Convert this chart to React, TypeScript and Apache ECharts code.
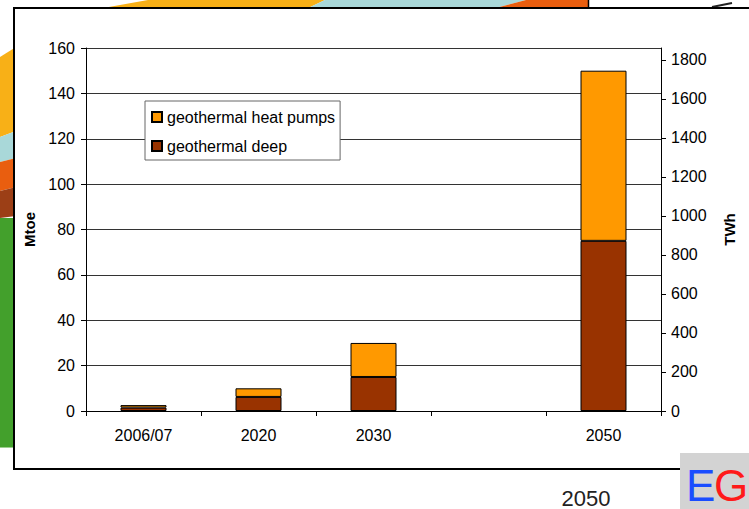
import React, { useEffect, useRef } from "react";
import * as echarts from "echarts";

const categories = ["2006/07", "2020", "2030", "", "2050"];
const deepValues = [1.5, 6.2, 15, null, 75];
const heatPumpValues = [1.1, 3.8, 15, null, 75];
const leftMax = 160;
const twhPerMtoe = 11.63;
const rightTicks = [0, 200, 400, 600, 800, 1000, 1200, 1400, 1600, 1800];

const FONT = "Liberation Sans, Arial, sans-serif";

export default function App() {
  const ref = useRef<HTMLDivElement>(null);
  useEffect(() => {
    document.body.style.margin = "0";
    const chart = echarts.init(ref.current!, null, { renderer: "svg" });
    const bg = -10;
    chart.setOption({
      animation: false,
      backgroundColor: "#ffffff",
      textStyle: { fontFamily: FONT },
      graphic: [
        // top decorative stripes
        { type: "polygon", z: bg, shape: { points: [[148, 0], [325, 0], [304, 10], [92, 10]] }, style: { fill: "#F8B017" } },
        { type: "polygon", z: bg, shape: { points: [[325, 0], [526, 0], [488, 10], [304, 10]] }, style: { fill: "#A9D8D9" } },
        { type: "polygon", z: bg, shape: { points: [[526, 0], [588, 0], [588, 10], [488, 10]] }, style: { fill: "#E95E0F" } },
        { type: "line", z: bg, shape: { x1: 588.5, y1: 0, x2: 588.5, y2: 9 }, style: { stroke: "#000", lineWidth: 1.5 } },
        { type: "line", z: bg, shape: { x1: 712, y1: 7, x2: 732, y2: 3 }, style: { stroke: "#222", lineWidth: 2 } },
        // left decorative stripes
        { type: "polygon", z: bg, shape: { points: [[0, 57], [16, 47], [16, 131], [0, 137]] }, style: { fill: "#F8B017" } },
        { type: "polygon", z: bg, shape: { points: [[0, 137], [16, 131], [16, 158], [0, 162]] }, style: { fill: "#A9D8D9" } },
        { type: "polygon", z: bg, shape: { points: [[0, 162], [16, 158], [16, 187], [0, 191]] }, style: { fill: "#E95E0F" } },
        { type: "polygon", z: bg, shape: { points: [[0, 191], [16, 187], [16, 216], [0, 218]] }, style: { fill: "#9C3F16" } },
        { type: "rect", z: bg, shape: { x: 0, y: 218, width: 16, height: 229 }, style: { fill: "#43A02C" } },
        { type: "rect", z: bg, shape: { x: 0, y: 447, width: 16, height: 1 }, style: { fill: "#9CCF8E" } },
        // chart box
        { type: "rect", z: bg + 1, shape: { x: 14, y: 8, width: 760, height: 461 }, style: { fill: "#ffffff", stroke: "#000", lineWidth: 2 } },
        // logo and footer
        { type: "rect", z: bg + 2, shape: { x: 680, y: 453, width: 69, height: 56 }, style: { fill: "#D3D3D3" } },
        { type: "text", z: bg + 3, x: 686, y: 485, style: { text: "E", fill: "#1A4DFF", font: "44px " + FONT, verticalAlign: "middle", align: "left" } },
        { type: "text", z: bg + 3, x: 714, y: 485, style: { text: "G", fill: "#FF1A1A", font: "44px " + FONT, verticalAlign: "middle", align: "left" } },
        { type: "text", z: bg + 3, x: 586, y: 498, style: { text: "2050", fill: "#222", font: "22px " + FONT, verticalAlign: "middle", align: "center" } },
      ],
      legend: {
        data: ["geothermal heat pumps", "geothermal deep"],
        orient: "vertical",
        left: 145,
        top: 101,
        backgroundColor: "#fff",
        borderColor: "#666",
        borderWidth: 1,
        borderRadius: 0,
        padding: [8, 5, 6, 6],
        itemGap: 13,
        itemWidth: 10,
        itemHeight: 10,
        icon: "rect",
        textStyle: { fontSize: 16, color: "#000", fontFamily: FONT },
      },
      grid: { left: 86, right: 88, top: 48, bottom: 98, containLabel: false },
      xAxis: {
        type: "category",
        data: categories,
        axisLine: { lineStyle: { color: "#000", width: 1 } },
        axisTick: { show: true, alignWithLabel: false, length: 5, lineStyle: { color: "#000" } },
        axisLabel: { fontSize: 16, color: "#000", margin: 16, fontFamily: FONT },
      },
      yAxis: [
        {
          type: "value",
          min: 0,
          max: leftMax,
          interval: 20,
          name: "Mtoe",
          nameLocation: "middle",
          nameRotate: 90,
          nameGap: 48,
          nameTextStyle: { fontSize: 15, fontWeight: "bold", color: "#000", fontFamily: FONT },
          axisLine: { show: true, lineStyle: { color: "#000" } },
          axisTick: { show: true, length: 5, lineStyle: { color: "#000" } },
          axisLabel: { fontSize: 16, color: "#000", margin: 11, fontFamily: FONT },
          splitLine: { show: true, lineStyle: { color: "#333", width: 1 } },
        },
        {
          type: "value",
          position: "right",
          min: 0,
          max: leftMax * twhPerMtoe,
          name: "TWh",
          nameLocation: "middle",
          nameRotate: 90,
          nameGap: 61,
          nameTextStyle: { fontSize: 15, fontWeight: "bold", color: "#000", fontFamily: FONT },
          axisLine: { show: true, lineStyle: { color: "#000" } },
          axisTick: { show: true, length: 5, lineStyle: { color: "#000" }, customValues: rightTicks },
          axisLabel: {
            fontSize: 16,
            color: "#000",
            margin: 10,
            fontFamily: FONT,
            customValues: rightTicks,
            formatter: (v: number) => String(Math.round(v)),
          },
          splitLine: { show: false },
        },
      ],
      series: [
        {
          name: "geothermal deep",
          type: "bar",
          stack: "total",
          barWidth: "40%",
          data: deepValues,
          itemStyle: { color: "#993300", borderColor: "#000", borderWidth: 1 },
        },
        {
          name: "geothermal heat pumps",
          type: "bar",
          stack: "total",
          barWidth: "40%",
          data: heatPumpValues,
          itemStyle: { color: "#FF9900", borderColor: "#000", borderWidth: 1 },
        },
      ],
    });
    return () => chart.dispose();
  }, []);
  return (
    <div
      ref={ref}
      style={{ position: "absolute", left: 0, top: 0, width: 749, height: 509 }}
    />
  );
}
